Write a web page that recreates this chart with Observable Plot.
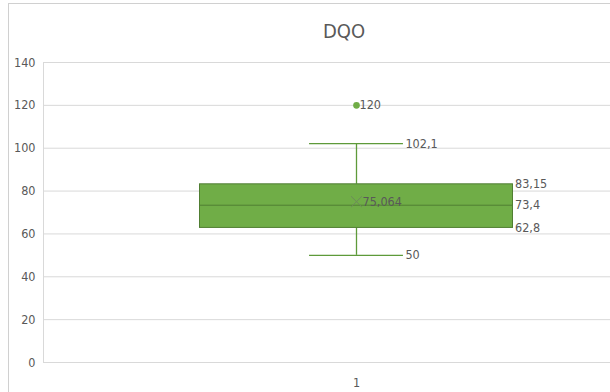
<!DOCTYPE html>
<html>
<head>
<meta charset="utf-8">
<script src="https://cdn.jsdelivr.net/npm/d3@7"></script>
<script src="https://cdn.jsdelivr.net/npm/@observablehq/plot@0.6"></script>
<style>
  html, body { margin: 0; padding: 0; background: #fff; overflow: hidden; }
  #chart { position: relative; width: 610px; height: 392px; overflow: hidden;
           font-family: "Liberation Sans Narrow", "DejaVu Sans Condensed", sans-serif; }
  #frame { position: absolute; left: 8px; top: 3px; right: 0; bottom: 0;
           border-left: 1px solid #d0d0d0; border-top: 1px solid #d0d0d0; }
  #title { position: absolute; left: 0; top: 0; width: 688px; height: 45px;
           text-align: center; line-height: 62px; font-size: 20px; color: #595959; }
  #plot { position: absolute; left: 0; top: 45px; }
</style>
</head>
<body>
<div id="chart">
  <div id="frame"></div>
  <div id="title">DQO</div>
  <div id="plot"></div>
</div>
<script>
// Box plot summary for DQO
const categories = ["1"];
const whiskerLow = 50;
const q1 = 62.8;
const median = 73.4;
const mean = 75.064;
const q3 = 83.15;
const whiskerHigh = 102.1;
const outliers = [120];
const yTicks = [0, 20, 40, 60, 80, 100, 120, 140];

const fmt = v => String(v).replace(".", ",");
const green = "#70ad47";
const boxEdge = "#507e32";
const whiskerGreen = "#5e9a3a";
const labelColor = "#595959";
const cx = 1; // position of the single category

const box = [{x1: cx - 0.5, x2: cx + 0.5, y1: q1, y2: q3}];
const rightLabels = [q3, median, q1];
const whiskerLabels = [whiskerHigh, whiskerLow];

const chart = Plot.plot({
  width: 610,
  height: 347,
  marginTop: 17,
  marginBottom: 30,
  marginLeft: 43,
  marginRight: 0,
  style: {fontFamily: "'Liberation Sans Narrow', 'DejaVu Sans Condensed', sans-serif", fontSize: "12.5px", color: labelColor, overflow: "hidden"},
  x: {domain: [0, 2], range: [43, 669], ticks: [cx], tickFormat: i => categories[i - 1], tickSize: 0, label: null, tickPadding: 16},
  y: {domain: [0, 140], ticks: yTicks, tickSize: 0, tickPadding: 8, label: null},
  marks: [
    Plot.ruleY(yTicks, {stroke: "#d9d9d9", strokeWidth: 1}),
    Plot.ruleX([0], {y1: 0, y2: 140, stroke: "#d9d9d9"}),
    // whiskers
    Plot.ruleX([cx], {y1: q3, y2: whiskerHigh, stroke: whiskerGreen, strokeWidth: 1.3}),
    Plot.ruleX([cx], {y1: whiskerLow, y2: q1, stroke: whiskerGreen, strokeWidth: 1.3}),
    Plot.ruleY([whiskerHigh, whiskerLow], {x1: cx - 0.15, x2: cx + 0.15, stroke: whiskerGreen, strokeWidth: 1.3}),
    // box
    Plot.rect(box, {x1: "x1", x2: "x2", y1: "y1", y2: "y2", fill: green, stroke: boxEdge, strokeWidth: 1}),
    Plot.ruleY([median], {x1: cx - 0.5, x2: cx + 0.5, stroke: boxEdge, strokeWidth: 1}),
    // mean marker
    Plot.dot([mean], {x: () => cx, y: d => d, symbol: "times", r: 5, stroke: "#6d8a5a", strokeWidth: 1}),
    // outliers
    Plot.dot(outliers, {x: () => cx, y: d => d, r: 2.6, fill: green, stroke: green}),
    // data labels
    Plot.text(outliers, {x: () => cx, y: d => d, text: fmt, textAnchor: "start", dx: 3, fill: labelColor}),
    Plot.text(whiskerLabels, {x: () => cx + 0.15, y: d => d, text: fmt, textAnchor: "start", dx: 2, fill: labelColor}),
    Plot.text([mean], {x: () => cx, y: d => d, text: fmt, textAnchor: "start", dx: 6, fill: labelColor}),
    Plot.text(rightLabels, {x: () => cx + 0.5, y: d => d, text: fmt, textAnchor: "start", dx: 2, fill: labelColor})
  ]
});
document.getElementById("plot").appendChild(chart);
</script>
</body>
</html>
